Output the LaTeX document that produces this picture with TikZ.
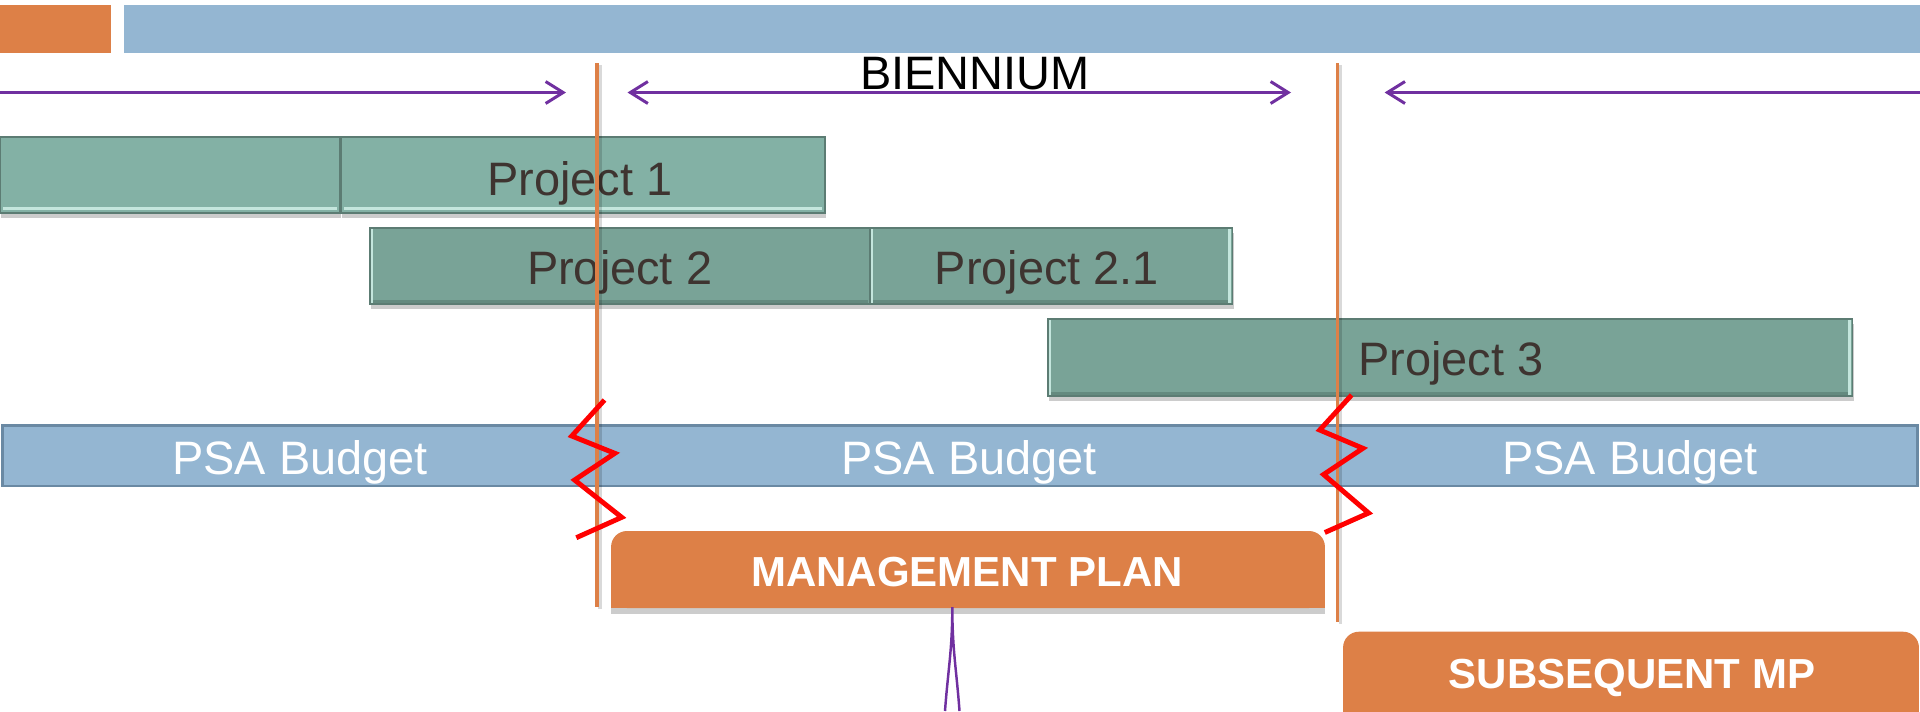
\documentclass[tikz,border=0pt]{standalone}
\usepackage{fontspec}
\setmainfont{Liberation Sans}
\usetikzlibrary{arrows.meta,shadows,calc}
\definecolor{topor}{RGB}{221,128,71}
\definecolor{topbl}{RGB}{148,182,210}
\definecolor{psaedge}{RGB}{106,137,163}
\definecolor{arrpur}{RGB}{112,48,160}
\definecolor{projA}{RGB}{131,177,165}
\definecolor{projB}{RGB}{121,163,151}
\definecolor{projedge}{RGB}{92,124,115}
\definecolor{projlight}{RGB}{196,230,221}
\definecolor{projdark}{RGB}{100,138,127}
\definecolor{projtxt}{RGB}{62,52,48}
\definecolor{zigred}{RGB}{255,0,0}
\newcommand\bevR[1]{\fill[projlight] ($(#1.north east)+(-4,1)$) rectangle ($(#1.south east)+(-1,-1)$);}
\newcommand\bevL[1]{\fill[projlight] ($(#1.north west)+(1,1)$) rectangle ($(#1.south west)+(3,-1)$);}
\newcommand\bevBdark[1]{\fill[projdark] ($(#1.south west)+(1,-4)$) rectangle ($(#1.south east)+(-1,-1)$);}
\newcommand\bevBlight[1]{\fill[projlight] ($(#1.south west)+(3,-6)$) rectangle ($(#1.south east)+(-3,-3)$);}
\begin{document}
\begin{tikzpicture}[x=0.02cm,y=-0.02cm,
  bar/.style={rectangle, inner sep=0pt, outer sep=0pt, draw=none},
  projbox/.style={rectangle, inner sep=0pt, outer sep=0pt, draw=projedge, line width=0.7pt,
     drop shadow={shadow xshift=0.8pt, shadow yshift=-3pt, opacity=0.4}},
  ptext/.style={font=\fontsize{26.7}{30}\selectfont, text=projtxt, inner sep=0pt, anchor=base},
  btext/.style={font=\fontsize{26.7}{30}\selectfont, text=black, inner sep=0pt, anchor=base},
  wtext/.style={font=\fontsize{26.7}{30}\selectfont, text=white, inner sep=0pt, anchor=base},
  mtext/.style={font=\fontsize{23.9}{28}\selectfont\bfseries, text=white, inner sep=0pt, anchor=base},
  parr/.style={draw=arrpur, line width=1.7pt, >={Straight Barb[length=10pt, width=12.5pt]}},
  vline/.style={draw=topor, line width=2pt},
  vshadow/.style={draw=black, opacity=0.15, line width=2pt},
  zig/.style={draw=zigred, line width=2.8pt, line join=miter},
  mshadow/.style={drop shadow={shadow xshift=0pt, shadow yshift=-3.5pt, opacity=0.4}}
]
\useasboundingbox (0,0) rectangle (1920,711);

% top bars
\node[bar, fill=topor, minimum width=2.23cm, minimum height=0.96cm, anchor=north west] (tor) at (0,5) {};
\node[bar, fill=topbl, minimum width=35.92cm, minimum height=0.96cm, anchor=north west] (tbl) at (124,5) {};

% biennium arrows
\coordinate (a1s) at (0,92.5);
\coordinate (a1e) at (566,92.5);
\coordinate (a2s) at (627.5,92.5);
\coordinate (a2e) at (1291,92.5);
\coordinate (a3s) at (1920,92.5);
\coordinate (a3e) at (1384.6,92.5);
\draw[parr, ->] (a1s) -- (a1e);
\draw[parr, <->] (a2s) -- (a2e);
\draw[parr, ->] (a3s) -- (a3e);
\node[btext] (bien) at (975,89) {BIENNIUM};

% projects
\node[projbox, fill=projA, minimum width=6.8cm, minimum height=1.52cm] (p1a) at (170,175) {};
\node[projbox, fill=projA, minimum width=9.68cm, minimum height=1.52cm] (p1b) at (583,175) {};
\bevBlight{p1a}\bevBlight{p1b}
\node[projbox, fill=projB, minimum width=9.99cm, minimum height=1.52cm] (p2) at (619.75,266) {};
\node[projbox, fill=projB, minimum width=7.25cm, minimum height=1.52cm] (p21) at (1051.25,266) {};
\node[projbox, fill=projB, minimum width=16.09cm, minimum height=1.54cm] (p3) at (1450.25,357.5) {};
\bevBdark{p2}\bevBdark{p21}\bevBdark{p3}
\bevL{p2}\bevL{p21}\bevL{p3}\bevR{p21}\bevR{p3}

\node[ptext] (p1t) at (580,195) {Project 1};
\node[ptext] (p2t) at (619.6,284) {Project 2};
\node[ptext] (p21t) at (1047,284) {Project 2.1};
\node[ptext] (p3t) at (1451,375) {Project 3};

% PSA budget bar
\node[rectangle, inner sep=0pt, fill=topbl, draw=psaedge, line width=1.7pt,
      minimum width=38.32cm, minimum height=1.21cm] (psa) at (960,455.75) {};
\node[wtext] (psa1) at (300,474) {PSA Budget};
\node[wtext] (psa2) at (969,474) {PSA Budget};
\node[wtext] (psa3) at (1630,474) {PSA Budget};

% management plan
\node[bar, minimum width=14.28cm, minimum height=1.54cm] (mp) at (968,569.5) {};
\fill[topor, mshadow] (mp.west) rectangle (mp.south east);
\fill[topor, rounded corners=9pt] (mp.south west) rectangle (mp.north east);
\node[mtext] (mpt) at (967,586.7) {MANAGEMENT PLAN};

% subsequent MP
\node[bar, minimum width=11.52cm, minimum height=1.766cm] (smp) at (1631,675.85) {};
\fill[topor, mshadow] (smp.west) rectangle (smp.south east);
\fill[topor, rounded corners=9pt] (smp.south west) rectangle (smp.north east);
\node[mtext] (smpt) at (1632,688.3) {SUBSEQUENT MP};

% vertical biennium limits
\coordinate (v1t) at (597,63);
\coordinate (v1b) at (597,607);
\coordinate (v2t) at (1337.5,63);
\coordinate (v2b) at (1337.5,622);
\draw[vshadow] ($(v1t)+(3,2)$) -- ($(v1b)+(3,2)$);
\draw[vshadow] ($(v2t)+(3,2)$) -- ($(v2b)+(3,2)$);
\draw[vline] (v1t) -- (v1b);
\draw[vline] (v2t) -- (v2b);

% red break marks
\draw[zig] (604.5,400) -- (571.8,436) -- (614.8,453.3) -- (574.6,480) -- (621.7,517.3) -- (576.3,537.7);
\draw[zig] (1351.6,395) -- (1319.7,430) -- (1362.9,448.3) -- (1323.6,474.5) -- (1368.6,513) -- (1324.8,532.5);

% purple spike below the management plan
\coordinate (sp) at (952.3,607);
\coordinate (spl) at (945,711);
\coordinate (spr) at (959.5,711);
\draw[draw=arrpur, line width=1.4pt] (spl) .. controls (948,670) and (952.3,650) .. (sp)
   .. controls (952.3,650) and (956.5,670) .. (spr);
\end{tikzpicture}
\end{document}
